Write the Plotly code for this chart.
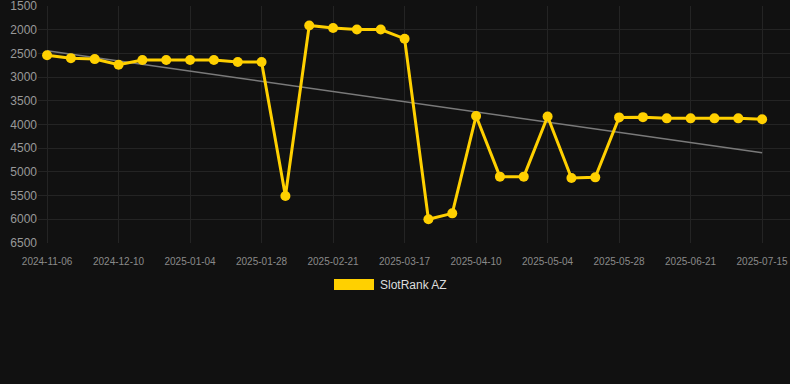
import plotly.graph_objects as go

dates = [
    "2024-11-06", "2024-11-17", "2024-11-28", "2024-12-10", "2024-12-18", "2024-12-27",
    "2025-01-04", "2025-01-12", "2025-01-20", "2025-01-28", "2025-02-05", "2025-02-13",
    "2025-02-21", "2025-03-01", "2025-03-09", "2025-03-17", "2025-03-25", "2025-04-02",
    "2025-04-10", "2025-04-18", "2025-04-26", "2025-05-04", "2025-05-12", "2025-05-20",
    "2025-05-28", "2025-06-05", "2025-06-13", "2025-06-21", "2025-06-29", "2025-07-07",
    "2025-07-15",
]
ranks = [
    2540, 2600, 2620, 2740, 2640, 2640, 2640, 2640, 2680, 2680,
    5510, 1910, 1965, 1995, 1995, 2190, 6000, 5875, 3820, 5100,
    5100, 3830, 5130, 5115, 3850, 3845, 3870, 3870, 3870, 3870,
    3890,
]
trend_x = [dates[0], dates[-1]]
trend_y = [2443, 4595]
tick_labels = dates[::3]
y_ticks = [1500, 2000, 2500, 3000, 3500, 4000, 4500, 5000, 5500, 6000, 6500]
series_name = "SlotRank AZ"

GOLD = "#FFD000"
BG = "#111111"
GRID = "#242424"

fig = go.Figure()
fig.add_trace(go.Scatter(
    x=trend_x, y=trend_y, mode="lines",
    line=dict(color="#7a7a7a", width=1.6),
    showlegend=False, hoverinfo="skip",
))
fig.add_trace(go.Scatter(
    x=dates, y=ranks, mode="lines+markers", name=series_name,
    line=dict(color=GOLD, width=3),
    marker=dict(color=GOLD, size=10),
    showlegend=False,
))

fig.update_layout(
    width=790, height=384,
    paper_bgcolor=BG, plot_bgcolor=BG,
    margin=dict(l=38, r=0, t=6, b=141),
    font=dict(family="Liberation Sans, Arial, sans-serif", color="#999999"),
    xaxis=dict(
        type="category", categoryorder="array", categoryarray=dates,
        range=[-0.38, 31.17],
        tickmode="array", tickvals=tick_labels, ticktext=tick_labels,
        tickfont=dict(size=10, color="#8a8a8a"),
        showgrid=True, gridcolor=GRID, gridwidth=1,
        zeroline=False, showline=False,
        ticks="outside", ticklen=9, tickcolor=BG,
    ),
    yaxis=dict(
        range=[6500.5, 1499.5],
        tickmode="array", tickvals=y_ticks,
        tickfont=dict(size=12, color="#999999"),
        ticklabeloverflow="allow",
        showgrid=True, gridcolor=GRID, gridwidth=1,
        zeroline=False, showline=False, ticks="",
    ),
    shapes=[dict(
        type="rect", xref="paper", yref="paper",
        x0=(334 - 38) / 752, x1=(374 - 38) / 752,
        y0=(384 - 141 - 290) / 237, y1=(384 - 141 - 279) / 237,
        fillcolor=GOLD, line=dict(width=0),
    )],
    annotations=[dict(
        text=series_name, xref="paper", yref="paper",
        x=(378 - 38) / 752, y=(384 - 141 - 284.5) / 237,
        xanchor="left", yanchor="middle", showarrow=False,
        font=dict(size=12, color="#dddddd"),
    )],
)

fig.write_html("out.html")
